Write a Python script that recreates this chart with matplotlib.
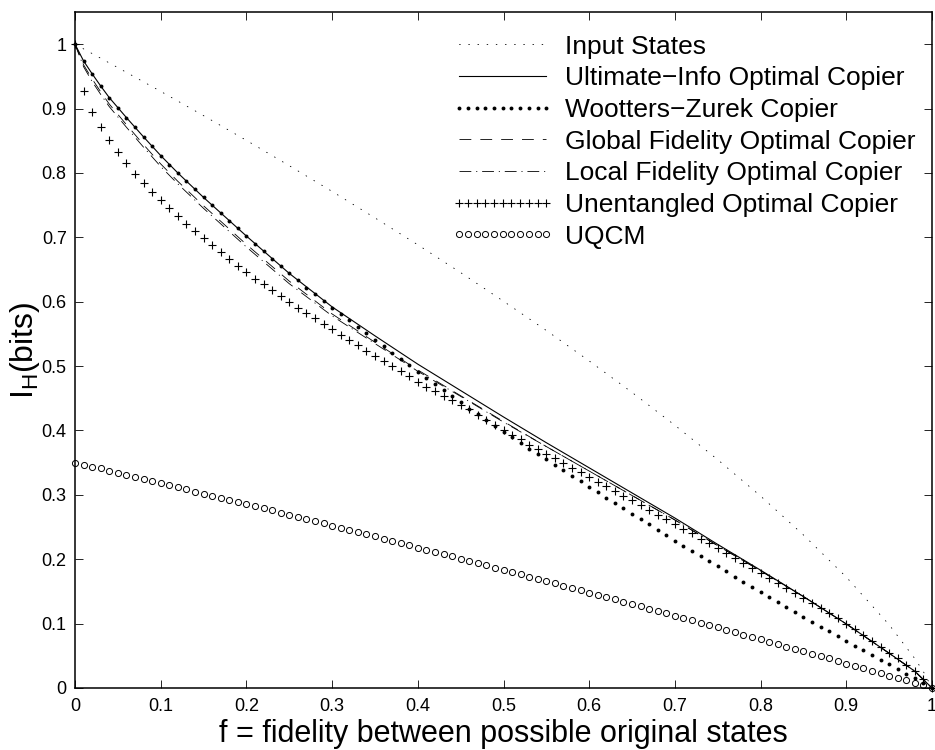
import numpy as np
import matplotlib
matplotlib.use("Agg")
import matplotlib.pyplot as plt

plt.rcParams['font.family'] = ['Liberation Sans', 'DejaVu Sans']
plt.rcParams['mathtext.fontset'] = 'custom'
plt.rcParams['mathtext.rm'] = 'Liberation Sans'
plt.rcParams['lines.scale_dashes'] = False

# ---- data ----
f_grid = np.round(np.arange(101) * 0.01, 2)

f_input = [0, 0.05, 0.10, 0.15, 0.20, 0.25, 0.30, 0.35, 0.40, 0.45, 0.50, 0.55,
           0.60, 0.65, 0.70, 0.75, 0.80, 0.85, 0.90, 0.95, 0.98, 0.99, 1.0]
input_states = [1.0, 0.9636, 0.9267, 0.8890, 0.8506, 0.8113, 0.7713, 0.7302, 0.6884,
                0.6452, 0.6007, 0.5553, 0.5080, 0.4591, 0.4081, 0.3546, 0.2981, 0.2377,
                0.1723, 0.0982, 0.0456, 0.0253, 0.0]

f_line = [0, 0.01, 0.02, 0.03, 0.04, 0.06, 0.08, 0.10, 0.12, 0.15, 0.20, 0.25, 0.30,
          0.35, 0.40, 0.45, 0.50, 0.55, 0.60, 0.65, 0.70, 0.75, 0.80, 0.85, 0.90, 0.95,
          0.98, 1.0]
ultimate = [1.000, 0.974, 0.954, 0.935, 0.917, 0.886, 0.856, 0.827, 0.800, 0.762, 0.702,
            0.644, 0.592, 0.547, 0.503, 0.462, 0.421, 0.381, 0.342, 0.303, 0.264, 0.223,
            0.183, 0.142, 0.0995, 0.054, 0.026, 0.0]
global_fid = [1.000, 0.968, 0.946, 0.926, 0.907, 0.875, 0.844, 0.814, 0.787, 0.749, 0.689,
              0.632, 0.581, 0.537, 0.494, 0.454, 0.414, 0.375, 0.337, 0.299, 0.261, 0.221,
              0.182, 0.142, 0.0995, 0.054, 0.026, 0.0]
local_fid = [1.000, 0.965, 0.942, 0.922, 0.903, 0.871, 0.840, 0.810, 0.783, 0.745, 0.685,
             0.628, 0.578, 0.535, 0.492, 0.453, 0.413, 0.375, 0.337, 0.299, 0.261, 0.221,
             0.182, 0.142, 0.0995, 0.054, 0.026, 0.0]

wootters_zurek = [
    1.000, 0.974, 0.954, 0.935, 0.917, 0.901, 0.886, 0.871, 0.856, 0.842,
    0.827, 0.813, 0.800, 0.788, 0.775, 0.762, 0.750, 0.738, 0.726, 0.714,
    0.702, 0.690, 0.678, 0.667, 0.655, 0.644, 0.633, 0.622, 0.612, 0.601,
    0.591, 0.581, 0.571, 0.561, 0.551, 0.541, 0.531, 0.521, 0.511, 0.501,
    0.491, 0.482, 0.472, 0.463, 0.453, 0.444, 0.434, 0.425, 0.416, 0.407,
    0.398, 0.390, 0.381, 0.372, 0.364, 0.355, 0.346, 0.338, 0.329, 0.321,
    0.312, 0.304, 0.295, 0.287, 0.279, 0.270, 0.262, 0.254, 0.245, 0.237,
    0.229, 0.221, 0.213, 0.205, 0.197, 0.189, 0.181, 0.173, 0.165, 0.157,
    0.149, 0.141, 0.133, 0.126, 0.118, 0.110, 0.103, 0.095, 0.088, 0.081,
    0.073, 0.066, 0.059, 0.051, 0.044, 0.037, 0.029, 0.022, 0.015, 0.007,
    0.000]

unentangled = [
    1.000, 0.927, 0.895, 0.871, 0.851, 0.832, 0.815, 0.799, 0.785, 0.771,
    0.758, 0.745, 0.733, 0.721, 0.710, 0.699, 0.688, 0.677, 0.666, 0.656,
    0.646, 0.636, 0.627, 0.618, 0.609, 0.600, 0.591, 0.583, 0.574, 0.565,
    0.557, 0.548, 0.540, 0.532, 0.524, 0.516, 0.508, 0.500, 0.492, 0.484,
    0.476, 0.468, 0.461, 0.454, 0.447, 0.440, 0.433, 0.424, 0.416, 0.409,
    0.401, 0.393, 0.386, 0.378, 0.371, 0.364, 0.357, 0.349, 0.342, 0.335,
    0.328, 0.320, 0.313, 0.306, 0.299, 0.292, 0.284, 0.277, 0.269, 0.262,
    0.255, 0.247, 0.240, 0.232, 0.225, 0.217, 0.210, 0.202, 0.194, 0.187,
    0.179, 0.171, 0.163, 0.156, 0.148, 0.140, 0.132, 0.124, 0.116, 0.108,
    0.099, 0.091, 0.082, 0.073, 0.064, 0.055, 0.046, 0.036, 0.026, 0.014,
    0.000]

uqcm = [
    0.350, 0.347, 0.344, 0.341, 0.337, 0.334, 0.331, 0.328, 0.325, 0.321,
    0.318, 0.315, 0.312, 0.309, 0.305, 0.302, 0.299, 0.295, 0.292, 0.289,
    0.286, 0.282, 0.279, 0.276, 0.272, 0.269, 0.266, 0.262, 0.259, 0.256,
    0.252, 0.249, 0.246, 0.242, 0.239, 0.236, 0.232, 0.229, 0.225, 0.222,
    0.218, 0.215, 0.212, 0.208, 0.205, 0.201, 0.198, 0.194, 0.191, 0.187,
    0.184, 0.180, 0.177, 0.173, 0.170, 0.166, 0.163, 0.159, 0.156, 0.152,
    0.148, 0.145, 0.141, 0.138, 0.134, 0.131, 0.127, 0.123, 0.120, 0.116,
    0.112, 0.109, 0.105, 0.101, 0.098, 0.094, 0.090, 0.087, 0.083, 0.079,
    0.076, 0.072, 0.068, 0.064, 0.061, 0.057, 0.053, 0.050, 0.046, 0.042,
    0.038, 0.034, 0.031, 0.027, 0.023, 0.019, 0.015, 0.012, 0.008, 0.004,
    0.000]

labels = ["Input States", "Ultimate\u2212Info Optimal Copier", "Wootters\u2212Zurek Copier",
          "Global Fidelity Optimal Copier", "Local Fidelity Optimal Copier",
          "Unentangled Optimal Copier", "UQCM"]
xticks = [0, 0.1, 0.2, 0.3, 0.4, 0.5, 0.6, 0.7, 0.8, 0.9, 1]
xticklabels = ["0", "0.1", "0.2", "0.3", "0.4", "0.5", "0.6", "0.7", "0.8", "0.9", "1"]
yticks = [0, 0.1, 0.2, 0.3, 0.4, 0.5, 0.6, 0.7, 0.8, 0.9, 1]
yticklabels = ["0", "0.1", "0.2", "0.3", "0.4", "0.5", "0.6", "0.7", "0.8", "0.9", "1"]

# ---- figure ----
fig = plt.figure(figsize=(9.35, 7.5), dpi=100)
ax = fig.add_axes([75/935, 1 - 688/750, 857/935, 676/750])

ax.plot(f_input, input_states, color='black', lw=0.6, linestyle=(0, (0.6, 6.0)),
        dash_capstyle='round', label=labels[0])
ax.plot(f_line, ultimate, color='black', lw=0.8, label=labels[1])
ax.plot(f_grid, wootters_zurek, linestyle='none', marker='o', ms=2.8, mew=0,
        color='black', label=labels[2], clip_on=False)
ax.plot(f_line, global_fid, color='black', lw=0.6, linestyle=(0, (8.5, 6.5)),
        label=labels[3])
ax.plot(f_line, local_fid, color='black', lw=0.6, linestyle=(0, (8.5, 3.5, 0.8, 3.5)),
        label=labels[4])
ax.plot(f_grid, unentangled, linestyle='none', marker='+', ms=5.2, mew=0.8,
        color='black', label=labels[5], clip_on=False)
ax.plot(f_grid, uqcm, linestyle='none', marker='o', ms=4.4, mew=0.7,
        markerfacecolor='none', color='black', label=labels[6], clip_on=False)

ax.set_xlim(0, 1)
ax.set_ylim(0, 1.05)
ax.set_xticks(xticks)
ax.set_xticklabels(xticklabels)
ax.set_yticks(yticks)
ax.set_yticklabels(yticklabels)
ax.tick_params(direction='in', top=True, right=True, length=5.5, width=0.6,
               labelsize=13)
ax.tick_params(axis='x', pad=7)
ax.tick_params(axis='y', pad=6)
for s in ax.spines.values():
    s.set_linewidth(1.1)

ax.set_xlabel("f = fidelity between possible original states", fontsize=22, labelpad=3)
ax.set_ylabel(r"$\mathregular{I_H(bits)}$", fontsize=23, labelpad=0)

leg = ax.legend(loc='upper left', bbox_to_anchor=(0.439, 0.9665), frameon=False,
                fontsize=19, numpoints=11, handlelength=3.9, handletextpad=0.40,
                labelspacing=0.29, borderaxespad=0, borderpad=0)

fig.savefig("out.png", dpi=100)
